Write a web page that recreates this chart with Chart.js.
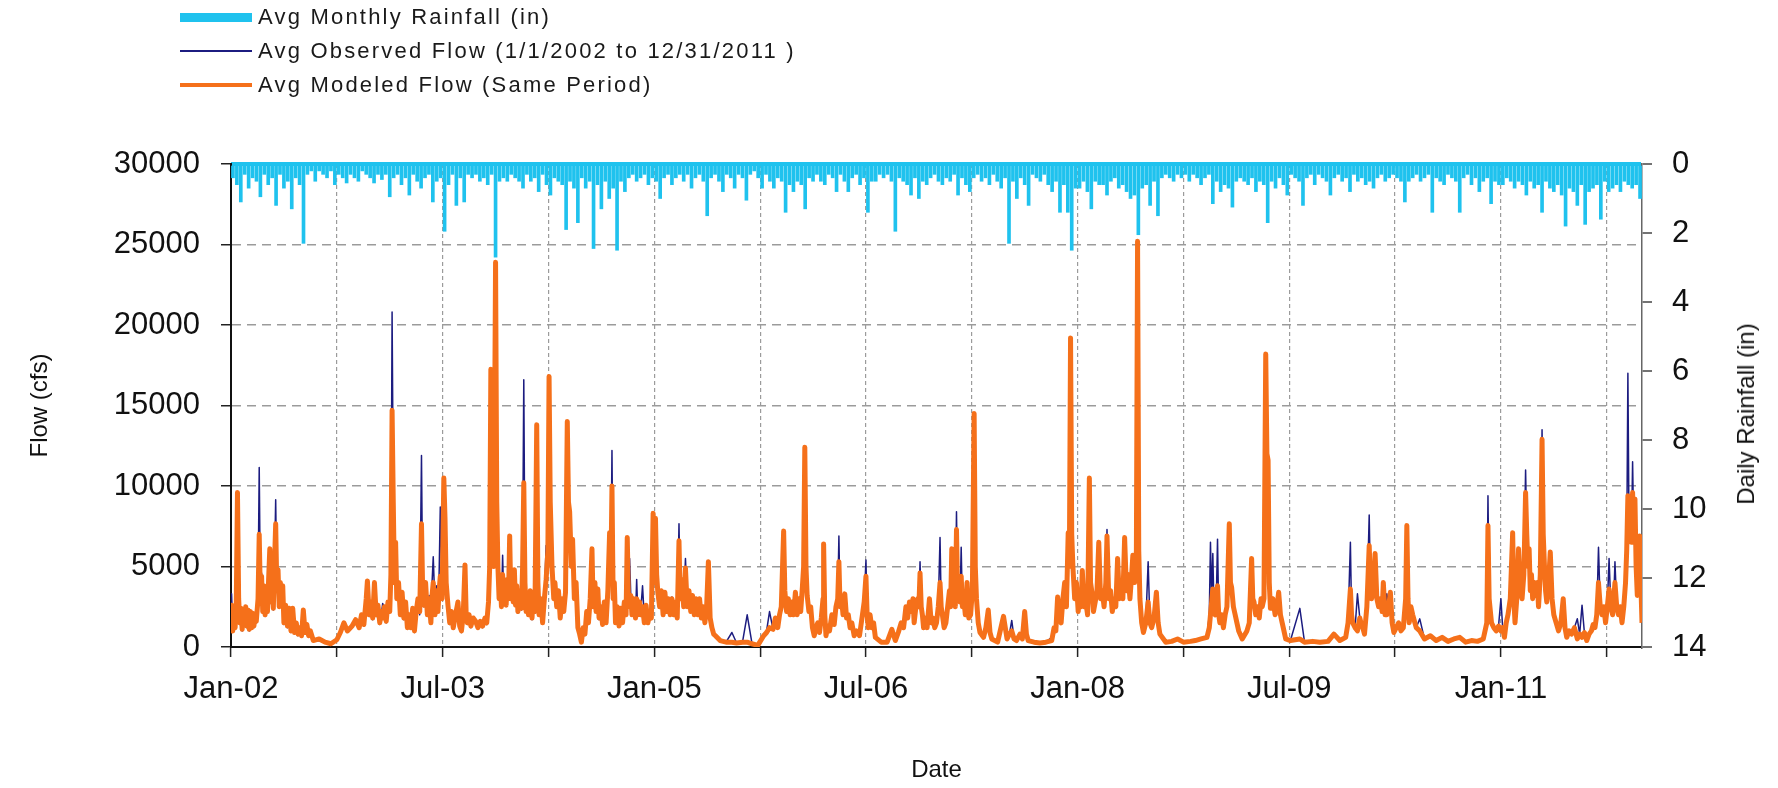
<!DOCTYPE html>
<html>
<head>
<meta charset="utf-8">
<script src="https://cdn.jsdelivr.net/npm/chart.js@4.4.1/dist/chart.umd.min.js"></script>
<style>
  body { margin: 0; background: #fff; }
  #wrap { position: relative; width: 1778px; height: 788px; }
  #legend {
    position: absolute; left: 180px; top: 0;
    font: 22px "Liberation Sans", Arial, sans-serif;
    letter-spacing: 2.2px; color: #1a1a1a;
  }
  .row { height: 34px; display: flex; align-items: center; }
  .sym { width: 72px; margin-right: 6px; }
  #rtitle {
    position: absolute; left: 1746px; top: 414px;
    transform: translate(-50%, -50%) rotate(-90deg);
    font: 24px "Liberation Sans", Arial, sans-serif; color: #111; white-space: nowrap;
  }
</style>
</head>
<body>
<div id="wrap">
  <canvas id="myChart" width="1778" height="788"></canvas>
  <div id="legend"></div>
  <div id="rtitle">Daily Rainfall (in)</div>
</div>
<script>
// x positions are months since 1 Jan 2002
const xTickLabels = ["Jan-02", "Jul-03", "Jan-05", "Jul-06", "Jan-08", "Jul-09", "Jan-11"];

const flowMonth = [
  0.0,0.05,0.15,0.25,0.35,0.45,0.55,0.65,0.75,0.85,
  0.95,1.05,1.15,1.25,1.35,1.45,1.55,1.65,1.75,1.85,
  1.95,2.05,2.15,2.3,2.4,2.5,2.6,2.7,2.8,2.9,
  3.0,3.1,3.2,3.3,3.4,3.5,3.6,3.7,3.8,3.9,
  4.0,4.1,4.2,4.3,4.4,4.5,4.65,4.8,4.95,5.1,
  5.25,5.4,5.55,5.7,5.85,6.0,6.15,6.3,6.45,6.6,
  6.75,7.0,7.5,8.0,8.5,9.0,9.3,9.6,9.9,10.3,
  10.6,10.9,11.1,11.3,11.5,11.6,11.75,11.9,12.05,12.2,
  12.35,12.5,12.65,12.8,12.9,13.05,13.2,13.35,13.5,13.6,
  13.7,13.8,13.9,14.0,14.1,14.25,14.4,14.55,14.7,14.85,
  15.0,15.15,15.3,15.45,15.6,15.75,15.9,16.05,16.2,16.3,
  16.4,16.55,16.7,16.85,17.0,17.1,17.2,17.35,17.5,17.6,
  17.7,17.8,17.95,18.1,18.2,18.3,18.45,18.6,18.75,18.9,
  19.1,19.3,19.45,19.6,19.75,19.9,20.0,20.1,20.25,20.4,
  20.6,20.8,21.0,21.2,21.4,21.6,21.75,21.9,22.0,22.1,
  22.2,22.35,22.5,22.6,22.7,22.8,22.9,23.0,23.1,23.2,
  23.3,23.4,23.5,23.6,23.7,23.8,23.9,24.0,24.1,24.2,
  24.3,24.4,24.55,24.7,24.8,24.9,25.0,25.1,25.2,25.3,
  25.45,25.6,25.7,25.85,26.0,26.1,26.2,26.35,26.5,26.65,
  26.8,26.95,27.05,27.15,27.3,27.45,27.55,27.7,27.85,28.0,
  28.15,28.3,28.45,28.6,28.7,28.8,28.95,29.05,29.2,29.35,
  29.5,29.65,29.8,29.95,30.1,30.25,30.4,30.55,30.7,30.8,
  30.95,31.05,31.2,31.3,31.45,31.6,31.75,31.9,32.05,32.2,
  32.3,32.4,32.5,32.6,32.7,32.85,33.0,33.15,33.3,33.45,
  33.6,33.7,33.8,33.9,34.0,34.1,34.25,34.4,34.5,34.6,
  34.75,34.85,35.0,35.15,35.3,35.45,35.6,35.75,35.9,36.0,
  36.1,36.2,36.3,36.45,36.6,36.75,36.9,37.05,37.2,37.35,
  37.5,37.65,37.8,37.95,38.1,38.2,38.35,38.5,38.65,38.8,
  38.95,39.1,39.25,39.4,39.55,39.7,39.85,40.0,40.15,40.3,
  40.45,40.6,40.75,40.9,41.05,41.2,41.6,42.1,42.6,43.0,
  43.5,43.9,44.3,44.8,45.3,45.55,45.8,46.1,46.3,46.5,
  46.65,46.8,47.0,47.1,47.25,47.4,47.55,47.7,47.85,48.0,
  48.15,48.3,48.45,48.6,48.7,48.8,48.9,49.0,49.15,49.3,
  49.45,49.6,49.75,49.9,50.05,50.2,50.35,50.4,50.5,50.6,
  50.75,50.9,51.1,51.3,51.45,51.6,51.7,51.8,51.9,52.05,
  52.2,52.35,52.5,52.65,52.8,53.0,53.2,53.45,53.7,53.85,
  54.0,54.1,54.2,54.35,54.5,54.65,54.8,55.3,55.8,56.2,
  56.5,56.75,57.0,57.2,57.4,57.55,57.7,57.85,58.0,58.1,
  58.25,58.4,58.5,58.6,58.7,58.8,58.9,59.0,59.2,59.4,
  59.55,59.7,59.85,60.0,60.15,60.3,60.4,60.5,60.65,60.8,
  60.95,61.1,61.2,61.3,61.4,61.5,61.6,61.7,61.8,61.9,
  62.0,62.1,62.2,62.3,62.45,62.6,62.75,62.9,63.05,63.2,
  63.3,63.4,63.55,63.7,64.0,64.2,64.4,64.55,64.7,65.2,
  65.7,66.0,66.2,66.4,66.6,66.8,67.1,67.3,67.5,67.65,
  67.8,68.3,68.8,69.3,69.8,70.0,70.15,70.3,70.45,70.6,
  70.75,70.9,71.05,71.2,71.3,71.4,71.5,71.6,71.75,71.9,
  72.05,72.2,72.3,72.4,72.55,72.7,72.85,73.0,73.1,73.2,
  73.35,73.5,73.65,73.8,73.95,74.1,74.25,74.4,74.5,74.65,
  74.8,74.95,75.1,75.25,75.4,75.55,75.7,75.85,76.0,76.15,
  76.3,76.45,76.6,76.7,76.85,77.0,77.1,77.2,77.3,77.45,
  77.6,77.8,78.0,78.15,78.3,78.5,78.7,78.85,79.0,79.5,
  80.0,80.5,81.0,81.6,82.0,82.5,83.0,83.2,83.3,83.4,
  83.5,83.6,83.7,83.8,83.9,84.0,84.1,84.25,84.4,84.55,
  84.7,84.9,85.0,85.1,85.25,85.4,85.55,85.7,86.0,86.4,
  86.6,86.8,86.9,87.0,87.15,87.3,87.45,87.6,87.7,87.85,
  88.0,88.1,88.2,88.3,88.4,88.6,88.8,88.95,89.1,89.25,
  89.4,89.55,89.7,90.1,90.9,91.3,92.0,92.6,93.3,93.8,
  94.3,94.8,95.0,95.2,95.3,95.4,95.6,95.8,96.0,96.1,
  96.25,96.4,96.6,96.8,96.9,97.0,97.15,97.3,97.45,97.6,
  97.75,97.9,98.0,98.15,98.3,98.45,98.6,98.75,98.9,99.1,
  99.3,99.5,99.7,99.9,100.0,100.1,100.2,100.35,100.5,100.8,
  101.1,101.5,102.0,102.5,103.0,103.5,104.0,104.5,105.0,105.5,
  106.0,106.5,106.8,106.9,107.0,107.2,107.4,107.6,107.8,108.0,
  108.15,108.3,108.45,108.6,108.8,109.0,109.1,109.2,109.35,109.5,
  109.65,109.8,109.95,110.1,110.2,110.3,110.4,110.5,110.6,110.7,
  110.85,111.0,111.1,111.2,111.35,111.5,111.6,111.7,111.8,111.9,
  112.05,112.2,112.35,112.5,112.7,112.9,113.1,113.3,113.45,113.6,
  113.8,114.0,114.25,114.5,114.7,114.9,115.1,115.3,115.5,115.7,
  115.85,116.0,116.15,116.3,116.45,116.6,116.75,116.9,117.05,117.2,
  117.35,117.5,117.6,117.7,117.85,118.0,118.15,118.3,118.45,118.6,
  118.7,118.8,118.9,119.0,119.1,119.2,119.3,119.4,119.5,119.6,
  119.7,119.8,119.9,120.0
];

const modeledFlow = [
  1200,2600,1000,2000,1200,2800,9600,3000,1500,2400,
  1100,2200,1400,2500,1300,2300,1100,2200,1200,2100,
  1300,2000,1600,3000,7000,3000,4400,2200,3800,2000,
  3500,2200,4200,6100,2800,4200,2400,5200,7650,3500,
  4800,2500,4000,2800,3800,1500,2600,1300,2400,1000,
  2400,900,1500,800,1200,700,2300,900,1400,700,
  1000,400,500,300,200,450,900,1500,1000,1300,
  1700,1200,2000,1400,3000,4100,2000,2800,1800,4000,
  2000,2600,1500,2200,1800,2500,1600,2800,2200,4500,
  14700,9000,4000,6500,3000,4000,2000,3400,1800,2800,
  1200,2000,1200,2400,1000,2200,3000,2200,7650,3500,
  2600,4000,2000,3000,1500,3200,4000,2000,3500,2200,
  3500,4400,3000,10500,8000,4000,2600,1500,2200,1200,
  2000,2800,1300,1000,2000,5100,2000,1500,2000,1300,
  1800,1600,1200,1600,1300,1800,1500,2800,5000,17250,
  6000,5000,23900,9000,5000,3000,4200,2500,4500,2800,
  4000,2600,4200,3000,6900,3000,4500,2800,4800,2600,
  3800,2200,3500,2400,5000,10200,4000,2200,3200,2000,
  3500,1800,3000,2200,13800,4000,2000,3000,1500,3000,
  4200,6000,16800,9000,5000,3000,4000,2500,3500,1800,
  3000,2200,3400,14000,9000,8400,5000,6700,3000,4000,
  1200,800,300,1200,800,2200,1500,3000,6100,2500,
  4000,2200,3600,1800,2500,1400,2800,1500,3500,7100,
  4000,10000,3000,4000,1500,2500,1300,2400,1500,2800,
  2000,6800,3000,2500,3200,2000,3000,1800,3000,2000,
  2800,2000,2500,1500,2600,1500,2000,1800,8300,4000,
  8000,4500,3400,2500,3500,2000,3400,2200,3000,2000,
  3000,2000,2800,1800,6600,3000,4200,2500,4900,2500,
  3500,2200,3200,2000,3000,2000,3000,1800,2500,1500,
  2500,5300,1800,1200,800,700,400,300,300,250,
  300,300,200,100,700,900,1200,1100,1800,1200,
  2000,2500,7200,3500,2200,3000,2000,2800,2000,3400,
  2000,3000,2200,3800,5000,12400,5000,3200,2200,2500,
  1200,700,1200,1500,900,1800,3000,6400,2000,700,
  1300,1000,2000,1400,2500,3000,5300,2500,3200,2000,
  3300,1800,2000,1200,1500,700,1000,700,2000,2800,
  4400,2000,1200,2000,1200,1500,600,300,300,1100,
  400,900,1500,1200,2500,1800,2800,2200,3000,1500,
  2500,3000,2500,4600,2500,2000,1200,1800,1200,3000,
  1500,1800,1200,1500,2500,4000,2500,2000,1200,1500,
  2500,3500,2500,6100,3000,3500,2500,7300,3000,3500,
  2800,4400,2500,3200,2000,4000,1800,2000,3500,14500,
  5000,3000,1500,900,600,1200,2300,900,500,300,
  1900,500,800,1000,500,400,800,500,2200,800,
  400,300,250,300,400,1200,1000,3100,2000,1500,
  3000,4000,2500,7100,5000,19200,7000,5000,3000,4000,
  2200,3500,2500,4750,2500,2800,2000,10500,4000,3500,
  2200,2800,3500,6500,3000,3500,2500,4000,6900,3000,
  3500,2200,3000,2500,5500,3000,4000,3000,6800,3500,
  4500,3000,4500,5700,4000,6000,25200,6000,3000,1500,
  900,1500,2800,1500,1200,1800,3400,1500,800,300,
  350,500,300,350,400,500,600,1200,2000,2800,
  3600,2200,2000,3000,3800,2000,1500,2000,1200,2000,
  2500,7650,4000,3700,2500,2000,1500,1000,500,1000,
  1500,5500,3000,2800,2000,2500,1800,3000,2500,3000,
  18200,12000,11600,4000,2400,3000,2000,2500,3400,2000,
  1500,1000,500,400,500,300,350,300,350,800,
  400,600,1500,3600,2000,1500,1200,1000,1800,1500,
  1200,800,2500,6300,4000,3000,3500,5800,3000,2500,
  3000,2200,4000,2000,2000,2500,3400,1500,900,1200,
  1500,1000,1200,3000,7550,3000,1500,2500,2000,1200,
  1000,500,700,400,600,350,500,600,300,400,
  350,500,1500,7550,3000,1500,1200,1000,1300,1000,
  1200,600,1500,2000,3000,7100,3000,1500,3000,6100,
  3500,3000,4500,9600,7000,5000,6100,3500,4500,3000,
  4000,3200,4000,2500,4500,12900,7000,5100,3500,2800,
  4000,5900,3000,2000,1500,1000,1500,3000,1200,600,
  1000,800,1200,500,800,600,900,400,800,1000,
  1400,1200,2000,4000,2500,2000,2500,1500,2500,3600,
  2500,2000,3000,4000,2500,2000,2500,1500,2500,4000,
  6000,9400,7000,8000,6500,9600,7000,9200,5000,3200,
  5000,6900,4000,1500
];

const observedFlow = [
  1500,3300,1100,1800,1200,2600,8000,2800,1400,2200,
  1000,2000,1300,2300,1200,2200,1000,2100,1100,1900,
  1200,1900,1500,3500,11150,3200,4600,2100,3600,1900,
  3000,2100,4000,5800,2700,4000,2300,5000,9150,3400,
  4500,2400,3800,2700,3500,1400,2500,1200,2200,900,
  2300,800,1400,700,1000,600,2100,800,1300,600,
  900,350,400,250,200,400,800,1400,1000,1200,
  1600,1200,1800,1300,2800,3800,1900,2700,1700,3700,
  1900,2500,1400,2100,2700,2400,1500,2700,3200,4500,
  20800,9700,4200,6500,3000,3800,2000,3200,1700,2600,
  1100,1900,1100,2300,900,2100,2800,2000,11900,3400,
  2500,4000,2000,3200,1800,4000,5600,2500,3800,2400,
  4500,8700,3500,9000,6500,4000,2500,1400,2100,1100,
  1900,2600,1200,900,1900,4900,1900,1400,1900,1200,
  1700,1500,1100,1500,1200,1700,1400,2600,4800,15000,
  6000,5000,22000,8500,5000,2900,4000,2500,5700,2800,
  4000,2600,4200,3000,6600,3000,4500,2800,4500,2600,
  3600,2100,3400,2300,5500,16600,4500,2200,3200,2200,
  3300,1700,2900,2100,12500,3800,2000,2800,1600,3000,
  6300,6000,16500,8500,4800,3000,3900,2600,3400,1800,
  2900,2200,3300,13500,8800,8000,5000,6400,3400,3800,
  1500,900,500,1200,900,2200,1500,3000,6000,2400,
  3900,2200,3500,1700,2400,1400,2700,1600,3500,7100,
  4000,12200,3000,4000,1600,2500,1300,2300,1500,2800,
  2000,6500,3000,5500,3200,2000,3000,1800,4200,2000,
  2800,2300,3800,1800,2600,1500,2100,1800,8300,4000,
  7800,4500,3600,2500,3500,2200,3300,2200,3000,2100,
  3100,2000,2800,1800,7650,3200,4000,2600,5500,2800,
  3400,2200,3200,2100,2900,2000,2900,1800,2500,1500,
  2400,5100,1700,1100,800,700,400,300,900,250,
  300,2000,250,100,600,1000,2200,1100,1800,1200,
  2000,2400,7000,3500,2200,2900,2000,2800,2000,3300,
  2000,2900,2100,3700,5000,11800,5000,3200,2200,2500,
  1200,700,1200,1400,900,1700,3000,6200,2000,800,
  1300,1000,2000,1400,2500,3000,6900,2500,3200,2200,
  3300,1800,2000,1200,1500,700,1000,700,2000,2800,
  5400,2000,1300,1900,1200,1500,600,300,300,1000,
  400,900,1400,1200,2400,1800,2800,2200,3000,1500,
  2500,2900,2500,5300,2500,2100,1100,1700,1200,2900,
  1400,1800,1200,1500,2500,6800,2500,2200,1200,1400,
  2400,3300,2400,6000,3000,3500,2500,8400,3000,3500,
  2800,6200,2500,3200,2000,4000,1800,2000,3500,14000,
  5000,3000,1500,900,600,1200,2200,900,500,300,
  1800,600,800,1650,500,400,800,500,2100,800,
  400,300,250,300,600,1200,1000,3000,2000,1500,
  2900,3900,2500,7000,5000,18800,7000,5000,3000,4000,
  2200,3500,2500,4600,2500,2700,2000,10000,4000,4000,
  2200,2700,3500,6400,3000,3500,2500,4000,7300,3000,
  3500,2200,2900,2400,5300,3000,4000,3000,6600,3500,
  4500,3000,4500,5600,4000,6000,24800,6000,3000,1500,
  900,1500,5300,1500,1200,1800,3300,1500,800,300,
  350,500,300,350,400,450,600,2000,6500,3000,
  5800,2200,2500,3000,6700,2000,1600,2000,1200,2000,
  2500,7400,4000,3600,2500,2000,1500,1000,500,1000,
  1500,5300,3000,2700,2000,2400,1800,3000,2500,3000,
  18000,11500,11000,4000,2400,3000,2600,2500,3300,2000,
  1500,1000,500,400,2400,300,350,300,350,900,
  400,600,1500,6500,2000,1500,1200,3300,1800,1500,
  1200,800,2500,8200,4000,3000,3500,5700,3000,2500,
  3000,2200,3900,2000,3300,2500,3300,1500,900,1200,
  1500,1000,1200,3000,7400,3000,1500,2400,1800,1200,
  1750,500,700,400,600,350,450,600,300,350,
  350,500,1500,9400,3000,1500,1200,1200,1300,3000,
  1200,600,1500,2000,3000,7000,3000,1500,3000,6000,
  3500,3000,4500,11000,7000,5000,6000,3500,4500,3000,
  4000,3200,3900,2500,4500,13500,7000,5000,3500,2800,
  4000,5800,3000,2000,1500,1000,1500,2900,1200,600,
  1000,800,1200,1750,800,2600,900,400,800,1000,
  1400,1100,2000,6200,2500,2000,2500,1500,2500,5500,
  2500,2000,3000,5300,2500,2000,2500,1500,2500,4000,
  6000,17000,7000,8000,6500,11500,7000,9000,5000,3200,
  5000,6900,4000,1500
];

// rainfall read per 10-day period (3 per month), one row per year 2002..2011
const rainfall = [
  0.4,0.6,1.1,0.3,0.7,0.4,0.5,0.95,0.3,0.6,0.4,1.2,0.3,0.7,0.5,1.3,0.4,0.6,2.3,0.3,0.2,0.5,0.2,0.3,0.4,0.2,0.6,0.3,0.4,0.55,0.3,0.4,0.5,0.2,0.3,0.4,
  0.55,0.3,0.45,0.3,0.95,0.4,0.3,0.6,0.4,0.9,0.3,0.5,0.7,0.4,0.3,1.1,0.5,0.4,1.95,0.6,0.3,1.2,0.4,1.1,0.3,0.4,0.3,0.5,0.4,0.6,0.3,2.7,0.5,0.4,0.5,0.3,
  0.4,0.5,0.7,0.3,0.5,0.4,0.8,0.3,0.6,0.9,0.4,0.5,0.6,1.9,0.5,0.7,1.7,0.4,0.7,0.5,2.45,0.6,1.3,0.5,1.0,0.7,2.5,0.5,0.8,0.4,0.3,0.5,0.4,0.3,0.6,0.4,
  0.5,1.0,0.4,0.3,0.6,0.4,0.3,0.5,0.3,0.7,0.4,0.3,0.5,1.5,0.4,0.3,0.5,0.8,0.3,0.4,0.7,0.3,0.4,1.05,0.3,0.2,0.4,0.7,0.3,0.5,0.7,0.4,0.5,1.4,0.6,0.8,
  0.5,0.6,1.3,0.4,0.5,0.3,0.5,0.6,0.3,0.4,0.8,0.3,0.5,0.8,0.4,0.3,0.6,0.4,1.4,0.5,0.5,0.3,0.4,0.3,0.5,1.95,0.4,0.5,0.6,0.9,0.4,1.0,0.5,0.6,0.4,0.3,
  0.5,0.6,0.4,0.5,0.3,0.9,0.4,0.6,0.8,0.4,0.3,0.5,0.4,0.6,0.3,0.5,0.7,0.4,2.3,0.5,1.0,0.4,0.6,1.2,0.3,0.4,0.5,0.3,0.6,0.8,0.5,1.4,0.6,1.4,2.5,0.7,
  0.7,0.5,0.8,1.3,0.5,0.6,0.6,0.9,0.5,0.4,0.7,0.6,0.8,1.0,0.9,2.05,0.7,0.6,1.2,0.5,1.5,0.4,0.3,0.4,0.5,0.3,0.4,0.3,0.5,0.3,0.4,0.6,0.4,0.3,1.15,0.5,
  0.8,0.6,0.7,1.25,0.5,0.4,0.5,0.6,0.4,0.8,0.5,0.6,1.7,0.5,0.7,0.4,0.6,0.9,0.3,0.4,0.5,1.2,0.4,0.3,0.6,0.3,0.4,0.5,0.9,0.4,0.3,0.5,0.4,0.8,0.3,0.5,
  0.4,0.6,0.5,0.7,0.4,0.3,0.5,0.4,0.3,0.4,0.5,1.1,0.5,0.4,0.3,0.5,0.4,0.3,1.4,0.4,0.5,0.6,0.3,0.4,0.5,1.4,0.4,0.3,0.6,0.4,0.8,0.5,0.4,1.15,0.5,0.6,
  0.6,0.4,0.5,0.7,0.5,0.6,0.9,0.5,0.7,0.6,1.4,0.5,0.7,0.8,0.6,0.9,1.8,0.7,0.8,1.2,0.6,1.75,0.8,0.7,0.6,1.6,0.5,0.8,0.7,0.6,0.8,0.5,0.6,0.7,0.6,1.0
];

const rainColor = "#1fc2ee";
const modeledColor = "#f5701a";
const observedColor = "#1c1c80";
const fontFamily = '"Liberation Sans", Arial, sans-serif';
const tickFont = { family: fontFamily, size: 31 };
const titleFont = { family: fontFamily, size: 24 };

const modeledPoints = flowMonth.map((m, i) => ({ x: m, y: modeledFlow[i] }));
const observedPoints = flowMonth.map((m, i) => ({ x: m, y: observedFlow[i] }));
const rainPoints = rainfall.map((v, i) => ({ x: i / 3 + 1 / 6, y: v }));

const datasets = [
  {
    type: "bar",
    label: "Avg Monthly Rainfall (in)",
    data: rainPoints,
    yAxisID: "y2",
    backgroundColor: rainColor,
    barThickness: 3,
    grouped: false,
    order: 2,
  },
  {
    type: "line",
    label: "Avg Observed Flow (1/1/2002 to 12/31/2011 )",
    data: observedPoints,
    yAxisID: "y",
    borderColor: observedColor,
    borderWidth: 1.5,
    pointRadius: 0,
    borderJoinStyle: "round",
    order: 1,
  },
  {
    type: "line",
    label: "Avg Modeled Flow (Same Period)",
    data: modeledPoints,
    yAxisID: "y",
    borderColor: modeledColor,
    borderWidth: 5,
    pointRadius: 0,
    borderJoinStyle: "round",
    order: 0,
  },
];

// legend in one column, top-left, like the original
const legendSymbols = [
  { height: 9, color: rainColor },
  { height: 1.5, color: observedColor },
  { height: 4, color: modeledColor },
];
const legendEl = document.getElementById("legend");
datasets.forEach((ds, i) => {
  const row = document.createElement("div");
  row.className = "row";
  const sym = document.createElement("span");
  sym.className = "sym";
  sym.style.height = legendSymbols[i].height + "px";
  sym.style.background = legendSymbols[i].color;
  const txt = document.createElement("span");
  txt.textContent = ds.label;
  row.appendChild(sym);
  row.appendChild(txt);
  legendEl.appendChild(row);
});

new Chart(document.getElementById("myChart"), {
  type: "line",
  data: { datasets },
  options: {
    responsive: false,
    animation: false,
    parsing: false,
    layout: { padding: { top: 164, left: 0, right: 0, bottom: 0 } },
    plugins: { legend: { display: false }, tooltip: { enabled: false } },
    scales: {
      x: {
        type: "linear",
        min: 0,
        max: 120,
        offset: false,
        afterFit: (s) => { s.height = 141; },
        ticks: {
          stepSize: 9,
          autoSkip: false,
          maxRotation: 0,
          includeBounds: false,
          padding: 14,
          color: "#111",
          font: tickFont,
          callback: (v) => {
            const m = Math.round(v);
            return m % 18 === 0 ? xTickLabels[m / 18] : "";
          },
        },
        grid: {
          offset: false,
          color: (c) => (c.tick && c.tick.value === 0 ? "rgba(0,0,0,0)" : "#9b9b9b"),
          lineWidth: 1.2,
          tickLength: 10,
          tickColor: "#222",
          tickWidth: 1.5,
        },
        border: { color: "#111", width: 2, dash: [4, 3] },
        title: { display: true, text: "Date", color: "#111", font: titleFont, padding: 3 },
      },
      y: {
        position: "left",
        min: 0,
        max: 30000,
        afterFit: (s) => { s.width = 231; },
        ticks: { stepSize: 5000, padding: 21, color: "#111", font: tickFont, callback: (v) => String(v) },
        grid: {
          color: (c) => (c.tick && c.tick.value === 30000 ? "rgba(0,0,0,0)" : "#9b9b9b"),
          lineWidth: 1.5,
          tickLength: 10,
          tickColor: "#222",
          tickWidth: 1.5,
        },
        border: { color: "#111", width: 2, dash: [9, 6] },
        title: { display: true, text: "Flow (cfs)", color: "#111", font: titleFont, padding: 26 },
      },
      y2: {
        position: "right",
        min: 0,
        max: 14,
        reverse: true,
        afterFit: (s) => { s.width = 136; },
        ticks: { stepSize: 2, padding: 20, color: "#111", font: tickFont, callback: (v) => String(v) },
        grid: {
          color: (c) => (c.tick && c.tick.value === 0 ? rainColor : "rgba(0,0,0,0)"),
          lineWidth: 4,
          tickLength: 10,
          tickColor: "#444",
          tickWidth: 1.5,
        },
        border: { color: "#666", width: 1.5 },
      },
    },
  },
});
</script>
</body>
</html>
